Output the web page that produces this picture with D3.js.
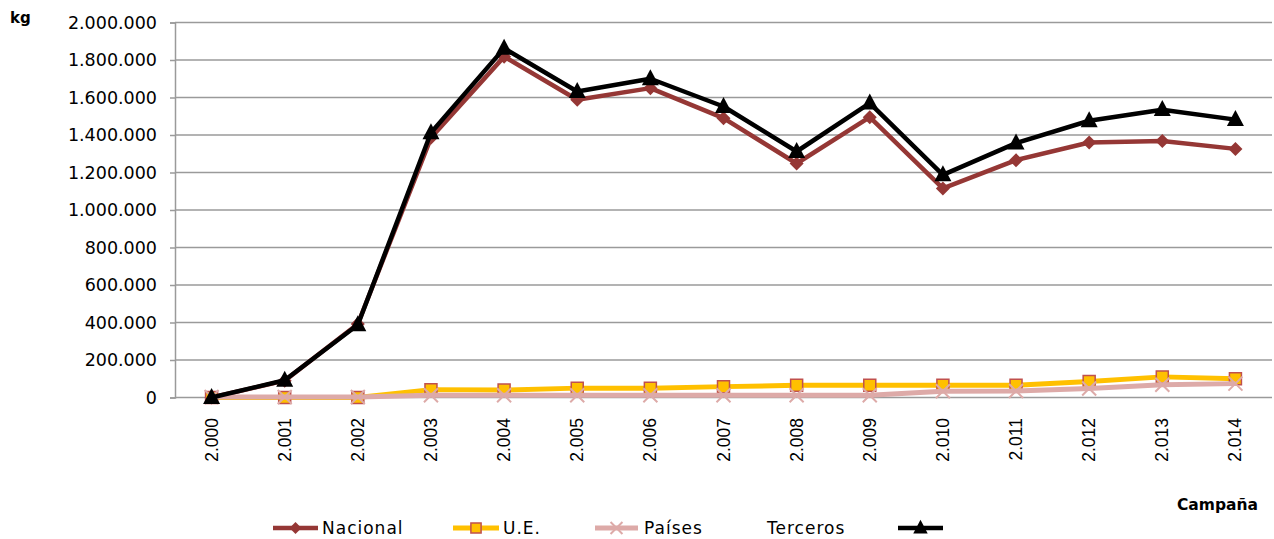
<!DOCTYPE html>
<html>
<head>
<meta charset="utf-8">
<script src="https://cdn.jsdelivr.net/npm/d3@7/dist/d3.min.js"></script>
<style>
  html, body { margin: 0; padding: 0; background: #fff; }
  svg { display: block; }
</style>
</head>
<body>
<svg id="chart" width="1274" height="539"></svg>
<script>
// Campaigns (years written with a Spanish thousands separator)
const campaigns = ["2.000","2.001","2.002","2.003","2.004","2.005","2.006","2.007",
                   "2.008","2.009","2.010","2.011","2.012","2.013","2.014"];

// Quantities in kg per campaign
const nacional = [0, 90000, 392000, 1385000, 1818000, 1588000, 1650000, 1490000,
                  1248000, 1495000, 1115000, 1266000, 1360000, 1368000, 1326000];
const ue       = [0, 0, 0, 42000, 40000, 50000, 50000, 58000,
                  65000, 65000, 65000, 65000, 85000, 110000, 100000];
const paises   = [3000, 3000, 3000, 12000, 12000, 12000, 12000, 12000,
                  12000, 12000, 33000, 35000, 48000, 68000, 74000];
const total    = [0, 92000, 388000, 1412000, 1862000, 1632000, 1700000, 1552000,
                  1312000, 1570000, 1187000, 1357000, 1476000, 1535000, 1482000];

const yTicks = [0, 200000, 400000, 600000, 800000, 1000000, 1200000, 1400000,
                1600000, 1800000, 2000000];

const svg = d3.select("#chart");

const x = d3.scaleBand().domain(campaigns).range([175, 1272]);
const y = d3.scaleLinear().domain([0, 2000000]).range([397.5, 22.5]);
const cx = d => x(d) + x.bandwidth() / 2;

const fmt = v => d3.format(",")(v).replace(/,/g, ".");

// Horizontal gridlines
svg.append("g")
  .selectAll("line")
  .data(yTicks.filter(t => t > 0))
  .join("line")
  .attr("x1", 175).attr("x2", 1272)
  .attr("y1", d => y(d)).attr("y2", d => y(d))
  .attr("stroke", "#9a9a9a").attr("stroke-width", 1.5);

// Y axis
const yAxis = svg.append("g")
  .attr("transform", "translate(175,0)")
  .call(d3.axisLeft(y).tickValues(yTicks).tickSize(5).tickPadding(13).tickFormat(fmt));
yAxis.select(".domain").attr("stroke", "#9a9a9a").attr("stroke-width", 1.5);
yAxis.selectAll(".tick line").attr("stroke", "#9a9a9a").attr("stroke-width", 1.5);
yAxis.selectAll(".tick text")
  .attr("font-family", "DejaVu Sans").attr("font-size", 17.5).attr("fill", "#000");

// X axis baseline
svg.append("line")
  .attr("x1", 175).attr("x2", 1272).attr("y1", y(0)).attr("y2", y(0))
  .attr("stroke", "#9a9a9a").attr("stroke-width", 1.5);

// X labels, rotated
svg.append("g")
  .selectAll("text")
  .data(campaigns)
  .join("text")
  .attr("transform", d => `translate(${cx(d) + 6},418) rotate(-90)`)
  .attr("text-anchor", "end")
  .attr("font-family", "Liberation Sans").attr("font-size", 17.5)
  .text(d => d);

// Axis titles
svg.append("text").attr("x", 10).attr("y", 23)
  .attr("font-family", "DejaVu Sans").attr("font-weight", "bold").attr("font-size", 15)
  .text("kg");
svg.append("text").attr("x", 1258).attr("y", 510).attr("text-anchor", "end")
  .attr("font-family", "DejaVu Sans").attr("font-weight", "bold").attr("font-size", 15.5)
  .text("Campaña");

// Marker shapes, as path strings around (0,0)
const diamondPath = r => `M0,${-r}L${r},0L0,${r}L${-r},0Z`;
const squarePath = r => `M${-r},${-r}H${r}V${r}H${-r}Z`;
const xPath = r => `M${-r},${-r}L${r},${r}M${r},${-r}L${-r},${r}`;
const triPath = (w, h) => `M0,${-h * 0.6}L${w / 2},${h * 0.4}L${-w / 2},${h * 0.4}Z`;

const series = [
  { name: "Nacional", values: nacional, color: "#953735", width: 4.5,
    draw: (g, k) => g.append("path").attr("d", diamondPath(7 * k))
      .attr("fill", "#953735") },
  { name: "U.E.", values: ue, color: "#FFC000", width: 5,
    draw: (g, k) => g.append("path").attr("d", squarePath(6 * k))
      .attr("fill", "#FFC000").attr("stroke", "#C0504D").attr("stroke-width", 1.5) },
  { name: "Países", values: paises, color: "#DDAAA8", width: 5,
    draw: (g, k) => g.append("path").attr("d", xPath(7 * k))
      .attr("fill", "none").attr("stroke", "#DDAAA8").attr("stroke-width", 2) },
  { name: "Terceros", values: total, color: "#000000", width: 4.5,
    draw: (g, k) => g.append("path").attr("d", triPath(17 * k, 16 * k))
      .attr("fill", "#000") }
];

const line = d3.line().x(d => cx(d.c)).y(d => y(d.v));

series.forEach(s => {
  const pts = campaigns.map((c, i) => ({ c, v: s.values[i] }));
  const g = svg.append("g");
  g.append("path").datum(pts)
    .attr("d", line)
    .attr("fill", "none").attr("stroke", s.color)
    .attr("stroke-width", s.width).attr("stroke-linejoin", "round");
  pts.forEach(p => {
    const m = g.append("g").attr("transform", `translate(${cx(p.c)},${y(p.v)})`);
    s.draw(m, 1);
  });
});

// Legend
const legend = svg.append("g").attr("font-family", "DejaVu Sans").attr("font-size", 17)
  .attr("letter-spacing", 1);
const legendItems = [
  { s: series[0], x1: 273, x2: 318, label: "Nacional", tx: 322 },
  { s: series[1], x1: 453, x2: 499, label: "U.E.", tx: 503 },
  { s: series[2], x1: 595, x2: 638, label: "Países", tx: 644 },
  { s: series[3], x1: 898, x2: 943, label: null, tx: 0 }
];
const ly = 528;
legendItems.forEach(it => {
  legend.append("line")
    .attr("x1", it.x1).attr("x2", it.x2).attr("y1", ly).attr("y2", ly)
    .attr("stroke", it.s.color).attr("stroke-width", it.s.width);
  const m = legend.append("g").attr("transform", `translate(${(it.x1 + it.x2) / 2},${ly})`);
  it.s.draw(m, 0.85);
  if (it.label) legend.append("text").attr("x", it.tx).attr("y", ly + 6).text(it.label);
});
legend.append("text").attr("x", 767).attr("y", ly + 6).text("Terceros");
</script>
</body>
</html>
